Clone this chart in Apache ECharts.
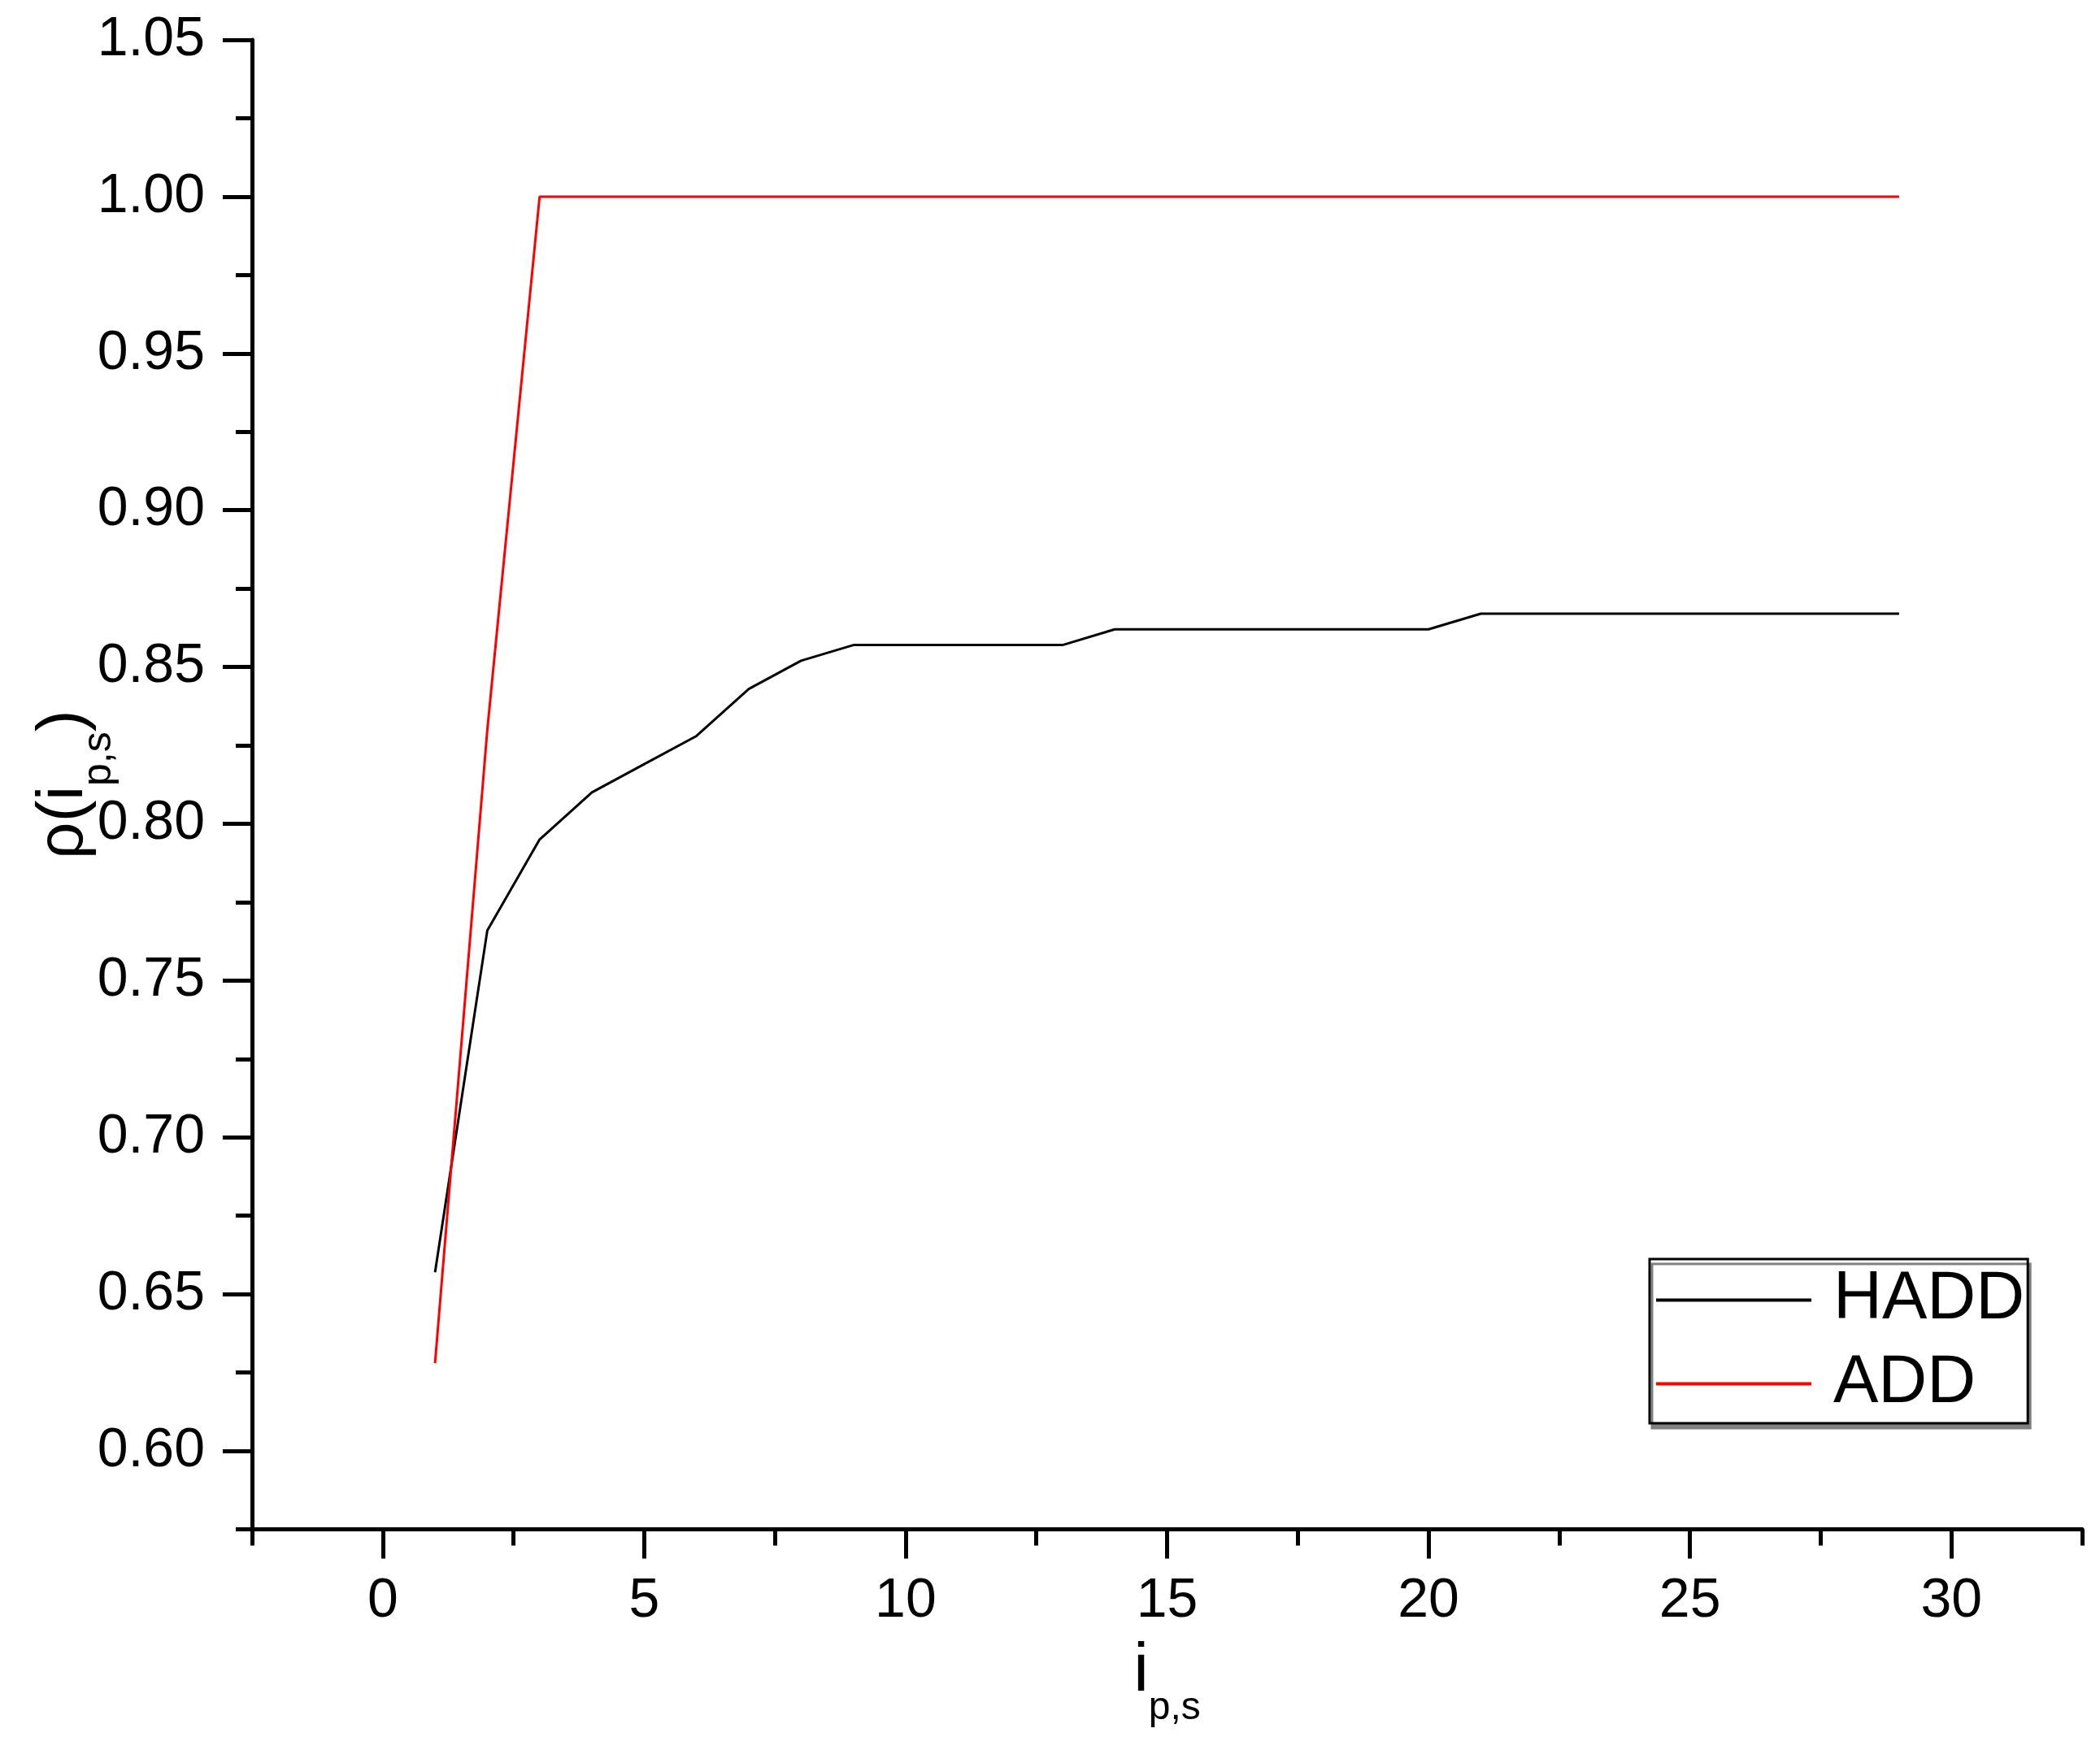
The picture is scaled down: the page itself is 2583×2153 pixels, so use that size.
<!DOCTYPE html>
<html>
<head>
<meta charset="utf-8">
<script src="https://cdn.jsdelivr.net/npm/echarts@6/dist/echarts.min.js"></script>
<style>
html,body{margin:0;padding:0;background:#fff;}
#chart{width:2583px;height:2153px;}
</style>
</head>
<body>
<div id="chart"></div>
<script>
// ---- data ----
const xValues = [1,2,3,4,5,6,7,8,9,10,11,12,13,14,15,16,17,18,19,20,21,22,23,24,25,26,27,28,29];
const haddValues = [0.657,0.766,0.795,0.810,0.819,0.828,0.843,0.852,0.857,0.857,0.857,0.857,0.857,0.862,0.862,0.862,0.862,0.862,0.862,0.862,0.867,0.867,0.867,0.867,0.867,0.867,0.867,0.867,0.867];
const addValues = [0.628,0.830,1.000,1.000,1.000,1.000,1.000,1.000,1.000,1.000,1.000,1.000,1.000,1.000,1.000,1.000,1.000,1.000,1.000,1.000,1.000,1.000,1.000,1.000,1.000,1.000,1.000,1.000,1.000];
const xMajorTicks = [0,5,10,15,20,25,30];
const xMinorTicks = [-2.5,2.5,7.5,12.5,17.5,22.5,27.5,32.5];
const yMajorTicks = [0.60,0.65,0.70,0.75,0.80,0.85,0.90,0.95,1.00,1.05];
const yMinorTicks = [0.575,0.625,0.675,0.725,0.775,0.825,0.875,0.925,0.975,1.025];
const seriesNames = ['HADD','ADD'];

const FONT = 'Liberation Sans, Arial, sans-serif';
const chart = echarts.init(document.getElementById('chart'));

const axisLineStyle = {show:true, onZero:false, lineStyle:{color:'#000', width:5}};
const nameRich = {
  m:{fontFamily:FONT, fontSize:84, lineHeight:84, color:'#000', verticalAlign:'top'},
  s:{fontFamily:FONT, fontSize:48, lineHeight:48, color:'#000', verticalAlign:'top', padding:[63,0,0,0]}
};
const nameRichY = {
  m:{fontFamily:FONT, fontSize:80, lineHeight:80, color:'#000', verticalAlign:'top'},
  s:{fontFamily:FONT, fontSize:50, lineHeight:50, color:'#000', verticalAlign:'top', padding:[58,0,0,0]}
};

const pair = (xs, ys) => xs.map((x,i)=>[x, ys[i]]);

chart.setOption({
  animation:false,
  backgroundColor:'#fff',
  grid:{left:310, right:22, top:49, bottom:271.5, containLabel:false},
  xAxis:[{
    type:'value', min:-2.5, max:32.5, splitNumber:7,
    axisLine:axisLineStyle,
    axisTick:{show:true, length:36, customValues:xMajorTicks, lineStyle:{color:'#000', width:5}},
    axisLabel:{customValues:xMajorTicks, fontFamily:FONT, fontSize:68, color:'#000', margin:55},
    splitLine:{show:false},
    name:'{m|i}{s|p,s}', nameLocation:'middle', nameGap:133, nameMoveOverlap:false,
    nameTextStyle:{rich:nameRich}
  },{
    type:'value', min:-2.5, max:32.5, position:'bottom', offset:0,
    axisLine:{show:false, onZero:false},
    axisTick:{show:true, length:20, customValues:xMinorTicks, lineStyle:{color:'#000', width:5}},
    axisLabel:{show:false},
    splitLine:{show:false}
  }],
  yAxis:[{
    type:'value', min:0.575, max:1.05, splitNumber:9,
    axisLine:axisLineStyle,
    axisTick:{show:true, length:36, customValues:yMajorTicks, lineStyle:{color:'#000', width:5}},
    axisLabel:{customValues:yMajorTicks, fontFamily:FONT, fontSize:68, color:'#000', margin:58,
      formatter:(v)=>v.toFixed(2)},
    splitLine:{show:false},
    name:'{m|ρ(i}{s|p,s}{m|)}', nameLocation:'middle', nameGap:191, nameMoveOverlap:false,
    nameTextStyle:{rich:nameRichY}
  },{
    type:'value', min:0.575, max:1.05, position:'left', offset:0,
    axisLine:{show:false, onZero:false},
    axisTick:{show:true, length:20, customValues:yMinorTicks, lineStyle:{color:'#000', width:5}},
    axisLabel:{show:false},
    splitLine:{show:false}
  }],
  legend:{
    orient:'vertical', left:2029, top:1549,
    data:seriesNames,
    icon:'rect', itemWidth:191, itemHeight:4, itemGap:18,
    selectedMode:false,
    padding:[8,4,6,8],
    borderColor:'#000', borderWidth:3, backgroundColor:'#fff',
    shadowColor:'#808080', shadowOffsetX:3, shadowOffsetY:6, shadowBlur:0,
    textStyle:{fontFamily:FONT, fontSize:83, lineHeight:85, color:'#000', padding:[0,0,0,22]}
  },
  series:[{
    name:seriesNames[0], type:'line', xAxisIndex:0, yAxisIndex:0,
    data:pair(xValues, haddValues),
    showSymbol:false, symbol:'none',
    color:'#000',
    lineStyle:{color:'#000', width:3},
    itemStyle:{color:'#000'}
  },{
    name:seriesNames[1], type:'line', xAxisIndex:0, yAxisIndex:0,
    data:pair(xValues, addValues),
    showSymbol:false, symbol:'none',
    color:'#ff0000',
    lineStyle:{color:'#ff0000', width:3},
    itemStyle:{color:'#ff0000'}
  }]
});
</script>
</body>
</html>
